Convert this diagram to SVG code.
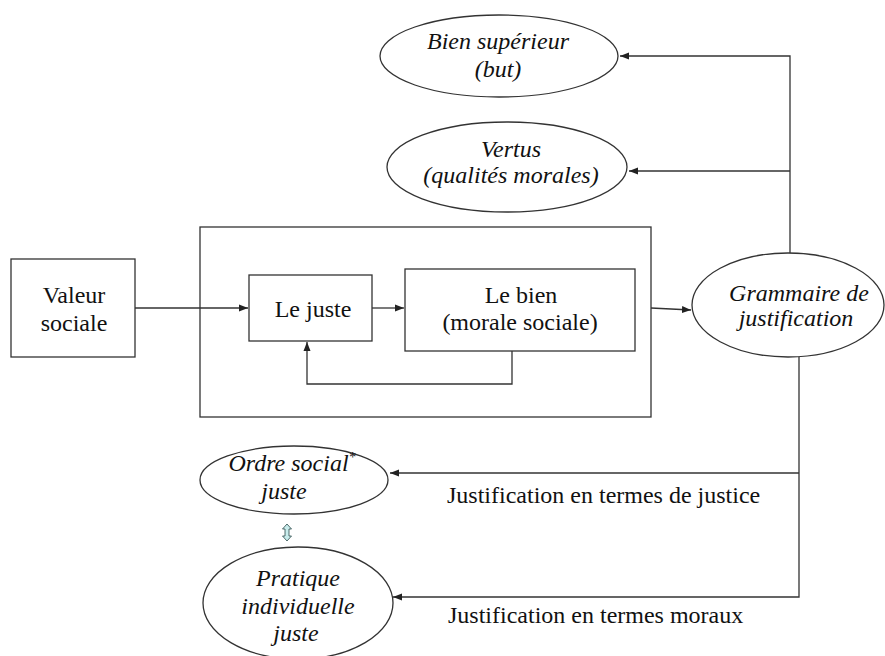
<svg xmlns="http://www.w3.org/2000/svg" width="885" height="656" viewBox="0 0 885 656" font-family="'Liberation Serif', 'Times New Roman', serif">
<style>
.n{fill:#fff;stroke:#333;stroke-width:1.3}
.f{fill:none;stroke:#333;stroke-width:1.3}
.c{fill:none;stroke:#333;stroke-width:1.3}
text{font-family:'Liberation Serif','Times New Roman',serif;font-size:24px;fill:#111}
.i{font-style:italic}
.m{text-anchor:middle}
</style>
<defs>
<marker id="ah" markerUnits="userSpaceOnUse" markerWidth="10" markerHeight="8" refX="9" refY="4" orient="auto">
<path d="M0,0.5 L9,4 L0,7.5 Z" fill="#222"/>
</marker>
</defs>
<rect width="885" height="656" fill="#fff"/>
<g id="cadre">
<rect class="f" x="200" y="227" width="451" height="190"/>
</g>
<g id="connectors">
<polyline class="c" points="790,253 790,56 620,56" marker-end="url(#ah)"/>
<polyline class="c" points="790,171 629,171" marker-end="url(#ah)"/>
<line class="c" x1="135" y1="308" x2="248" y2="308" marker-end="url(#ah)"/>
<line class="c" x1="372" y1="308" x2="404" y2="308" marker-end="url(#ah)"/>
<polyline class="c" points="512,351 512,384 307,384 307,342" marker-end="url(#ah)"/>
<line class="c" x1="651" y1="308" x2="691" y2="310" marker-end="url(#ah)"/>
<polyline class="c" points="799,357 799,597 393,597" marker-end="url(#ah)"/>
<line class="c" x1="799" y1="473" x2="390" y2="473" marker-end="url(#ah)"/>
<polygon points="287,524 291.5,529 289,529 289,536 291.5,536 287,541 282.5,536 285,536 285,529 282.5,529" fill="#c8ecec" stroke="#2a4a4a" stroke-width="0.8"/>
</g>
<g id="bien-superieur">
<ellipse class="n" cx="499" cy="56" rx="119" ry="41"/>
<text class="i m" x="498" y="49">Bien supérieur</text>
<text class="i m" x="498" y="77">(but)</text>
</g>
<g id="vertus">
<ellipse class="n" cx="507" cy="167" rx="120" ry="45"/>
<text class="i m" x="511" y="157">Vertus</text>
<text class="i m" x="511" y="183">(qualités morales)</text>
</g>
<g id="valeur-sociale">
<rect class="n" x="11" y="259" width="124" height="98"/>
<text class="m" x="74" y="303">Valeur</text>
<text class="m" x="74" y="331">sociale</text>
</g>
<g id="le-juste">
<rect class="n" x="249" y="275" width="123" height="66"/>
<text class="m" x="313" y="317">Le juste</text>
</g>
<g id="le-bien">
<rect class="n" x="405" y="269" width="230" height="82"/>
<text class="m" x="521" y="303">Le bien</text>
<text class="m" x="520" y="330">(morale sociale)</text>
</g>
<g id="grammaire">
<ellipse class="n" cx="788" cy="305" rx="96" ry="52"/>
<text class="i m" x="799" y="301">Grammaire de</text>
<text class="i m" x="796" y="326">justification</text>
</g>
<g id="ordre-social">
<ellipse class="n" cx="294" cy="480" rx="94" ry="34"/>
<text class="i m" x="292" y="471">Ordre social<tspan font-size="14" dy="-9">*</tspan></text>
<text class="i m" x="284" y="499">juste</text>
</g>
<g id="pratique">
<ellipse class="n" cx="298" cy="603" rx="95" ry="56"/>
<text class="i m" x="298" y="586">Pratique</text>
<text class="i m" x="298" y="614">individuelle</text>
<text class="i m" x="296" y="641">juste</text>
</g>
<g id="labels">
<text x="447" y="503" font-size="24.5">Justification en termes de justice</text>
<text x="448" y="623" font-size="24.5">Justification en termes moraux</text>
</g>
</svg>
